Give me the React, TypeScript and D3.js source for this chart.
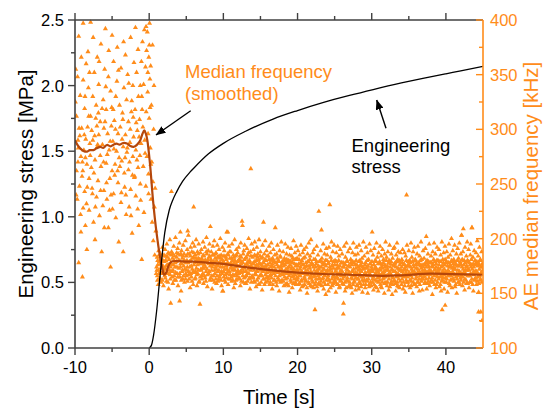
import React from 'react';
import * as d3 from 'd3';

const W = 543, H = 411;
const X0 = 75, X1 = 483, Y0 = 348, Y1 = 20;
const ORANGE = '#FF8C1A';
const SMOOTH = '#B5470B';
const AXIS = '#404040';
const FONT = '"Liberation Sans", Arial, sans-serif';

const xTicks = [-10, 0, 10, 20, 30, 40];
const xMinor = [-5, 5, 15, 25, 35];
const stressTicks = [0, 0.5, 1, 1.5, 2, 2.5];
const stressMinor = [0.25, 0.75, 1.25, 1.75, 2.25];
const freqTicks = [100, 150, 200, 250, 300, 350, 400];
const freqMinor = [125, 175, 225, 275, 325, 375];

// Engineering stress curve [s, MPa]
const stressT = [0, 0.3, 0.6, 1.0, 1.5, 2.1, 2.7, 3.2, 3.7, 4.5, 5.5, 6, 8, 10, 13, 16.7, 20, 23.4, 27, 30.2, 34, 36.9, 40, 42, 45];
const stressS = [0, 0.02, 0.1, 0.28, 0.57, 0.88, 1.05, 1.13, 1.19, 1.27, 1.34, 1.37, 1.48, 1.56, 1.652, 1.745, 1.81, 1.87, 1.925, 1.97, 2.02, 2.055, 2.09, 2.112, 2.147];

// Smoothed median frequency [s, kHz]
const smoothT = [-10, -9.6, -9.3, -8.8, -8.4, -8, -7.5, -7.1, -6.6, -6.2, -5.7, -5.2, -4.8, -4.4, -4, -3.5, -3, -2.6, -2.1, -1.8, -1.5, -1.2, -0.9, -0.66, -0.45, -0.25, 0.1, 0.56, 1.0, 1.46, 1.8, 2.0, 2.3, 2.6, 3.0, 4, 5, 6, 7.75, 10, 13, 16.7, 20, 23.4, 27, 31.5, 34, 37.9, 41, 45];
const smoothF = [290, 285, 282.6, 280, 279.6, 281, 281, 282.6, 284, 283, 285.7, 284.5, 286, 287, 286, 287.5, 287, 285, 284, 285, 287, 290, 296, 299, 296, 290, 269, 232, 205, 183.5, 172, 167, 169, 175, 179, 179.5, 179, 179, 178, 177, 174, 171, 169, 167.7, 167, 166, 166.5, 168, 167.5, 167];

// AE hits before loading [s, kHz]
const preloadHits: [number, number][] = [
  [-9.9,355],[-9.8,312],[-9.8,262],[-9.7,236],[-9.6,290],[-9.5,178],[-9.5,385],[-9.4,248],[-9.3,331],[-9.2,275],[-9.2,206],[-9.1,301],[-9.0,165],[-9.0,270],[-8.9,345],[-8.9,228],[-9.6,270],[-9.95,325],[-9.35,294],[-9.05,257],
  [-9.85,240],[-9.65,348],[-9.45,301],[-9.25,222],[-9.15,366],[-9.55,283],
  [-8.9,397],[-8.8,281],[-8.7,243],[-8.7,319],[-8.6,212],[-8.5,360],[-8.4,268],[-8.4,190],[-8.3,302],[-8.2,338],[-8.1,255],[-8.1,226],[-8.0,287],[-8.6,274],[-8.25,371],[-8.75,295],[-8.45,232],
  [-8.95,262],[-8.65,330],[-8.55,291],[-8.35,247],[-8.15,312],[-8.05,352],
  [-7.9,312],[-7.9,398],[-7.8,265],[-7.7,246],[-7.6,330],[-7.6,290],[-7.5,215],[-7.4,352],[-7.3,272],[-7.3,199],[-7.2,310],[-7.1,238],[-7.0,284],[-7.0,366],[-7.75,299],[-7.45,260],[-7.15,322],
  [-7.95,276],[-7.65,241],[-7.55,384],[-7.35,294],[-7.25,229],[-7.05,303],
  [-6.9,253],[-6.8,341],[-6.8,295],[-6.7,221],[-6.6,307],[-6.5,378],[-6.5,266],[-6.4,188],[-6.3,286],[-6.2,327],[-6.1,244],[-6.1,301],[-6.0,355],[-6.6,276],[-6.25,230],[-6.85,315],
  [-6.95,286],[-6.75,362],[-6.55,244],[-6.35,319],[-6.15,270],[-6.05,210],
  [-5.9,392],[-5.8,269],[-5.8,318],[-5.7,236],[-5.6,296],[-5.5,348],[-5.5,210],[-5.4,281],[-5.3,255],[-5.2,335],[-5.2,174],[-5.1,303],[-5.0,262],[-5.0,386],[-5.65,277],[-5.35,226],[-5.05,320],
  [-5.95,307],[-5.75,251],[-5.45,372],[-5.25,289],[-5.15,240],[-5.85,339],
  [-4.9,289],[-4.8,241],[-4.8,362],[-4.7,308],[-4.6,268],[-4.5,219],[-4.5,330],[-4.4,280],[-4.3,375],[-4.2,251],[-4.2,296],[-4.1,197],[-4.0,322],[-4.65,258],[-4.35,344],[-4.05,274],
  [-4.95,227],[-4.75,282],[-4.55,300],[-4.25,262],[-4.15,354],[-4.85,318],
  [-3.9,302],[-3.8,233],[-3.8,356],[-3.7,271],[-3.6,315],[-3.5,188],[-3.5,284],[-3.4,338],[-3.3,247],[-3.2,295],[-3.2,368],[-3.1,222],[-3.0,279],[-3.65,291],[-3.35,260],[-3.05,327],
  [-3.95,266],[-3.75,242],[-3.55,309],[-3.45,380],[-3.25,274],[-3.15,240],
  [-2.9,350],[-2.8,263],[-2.8,307],[-2.7,229],[-2.6,288],[-2.5,384],[-2.5,245],[-2.4,316],[-2.3,205],[-2.2,275],[-2.2,340],[-2.1,293],[-2.0,256],[-2.65,270],[-2.35,326],[-2.05,361],
  [-2.95,283],[-2.75,342],[-2.55,300],[-2.45,221],[-2.15,311],[-2.25,258],
  [-1.9,318],[-1.8,281],[-1.8,239],[-1.7,352],[-1.6,299],[-1.5,265],[-1.5,373],[-1.4,212],[-1.3,309],[-1.2,340],[-1.2,250],[-1.1,287],[-1.0,181],[-1.0,330],[-1.65,272],[-1.35,293],[-1.05,362],[-1.55,227],
  [-1.95,257],[-1.75,306],[-1.45,330],[-1.25,276],[-1.15,235],[-1.85,393],
  [-0.9,380],[-0.85,302],[-0.8,266],[-0.75,341],[-0.7,224],[-0.65,391],[-0.6,290],[-0.5,357],[-0.45,248],[-0.4,316],[-0.35,372],[-0.3,275],[-0.25,389],[-0.2,334],[-0.15,296],[-0.1,259],[-0.05,366],[0.0,310],[0.05,397],[0.1,346],[0.15,283],[0.2,358],[0.25,236],[0.3,322],
  [-0.95,318],[-0.55,278],[-0.42,394],[-0.18,352],[-0.08,241],[0.02,377],[0.12,320],[0.22,268],
  [0.35,270],[0.4,215],[0.5,252],[0.55,198],[0.6,300],[0.7,229],[0.75,185],[0.8,246],[0.9,207],[0.95,168],[0.45,377],[0.65,340],
];

// AE hits during loading, wide band [s, kHz]
const loadingHits: [number, number][] = [
  [1.03,171],[1.08,183],[1.12,162],[1.17,176],[1.22,158],[1.28,189],[1.33,168],[1.39,179],[1.45,164],[1.5,186],[1.56,173],[1.62,160],[1.68,181],[1.74,169],[1.8,192],[1.86,175],[1.92,157],[1.97,184],
  [2.04,179],[2.1,166],[2.15,190],[2.21,172],[2.27,184],[2.33,161],[2.38,195],[2.44,176],[2.5,168],[2.56,187],[2.62,154],[2.67,181],[2.73,171],[2.79,199],[2.85,163],[2.91,178],[2.96,185],
  [3.02,188],[3.08,170],[3.13,182],[3.19,159],[3.25,176],[3.31,193],[3.37,166],[3.42,184],[3.48,174],[3.54,201],[3.6,162],[3.66,179],[3.71,187],[3.77,168],[3.83,191],[3.89,157],[3.95,180],
  [4.01,173],[4.07,196],[4.13,165],[4.18,185],[4.24,177],[4.3,152],[4.36,189],[4.42,170],[4.47,182],[4.53,163],[4.59,194],[4.65,175],[4.71,186],[4.76,160],[4.82,179],[4.88,198],[4.94,168],
  [5.0,184],[5.06,171],[5.12,190],[5.17,161],[5.23,178],[5.29,203],[5.35,167],[5.41,186],[5.46,174],[5.52,155],[5.58,192],[5.64,180],[5.7,165],[5.75,188],[5.81,172],[5.87,196],[5.93,158],[5.98,183],
  [6.04,176],[6.1,193],[6.16,163],[6.21,185],[6.27,170],[6.33,199],[6.39,180],[6.45,157],[6.5,188],[6.56,168],[6.62,182],[6.68,195],[6.74,161],[6.8,177],[6.85,140],[6.91,187],[6.97,172],
  [7.03,190],[7.09,166],[7.14,181],[7.2,173],[7.26,197],[7.32,159],[7.38,184],[7.43,176],[7.49,192],[7.55,164],[7.61,180],[7.67,170],[7.72,201],[7.78,186],[7.84,156],[7.9,178],[7.96,189],
  [8.02,168],[8.08,183],[8.13,195],[8.19,162],[8.25,211],[8.31,177],[8.37,188],[8.42,171],[8.48,154],[8.54,185],[8.6,193],[8.66,166],[8.72,179],[8.77,198],[8.83,160],[8.89,182],[8.95,174],
  [9.01,187],[9.07,159],[9.13,176],[9.18,194],[9.24,170],[9.3,183],[9.36,163],[9.41,190],[9.47,178],[9.53,167],[9.59,200],[9.65,174],[9.7,185],[9.76,157],[9.82,181],[9.88,192],[9.94,152],
  [10.0,179],[10.06,165],[10.12,189],[10.17,172],[10.23,196],[10.29,160],[10.35,183],[10.41,175],[10.46,206],[10.52,168],[10.58,186],[10.64,158],[10.7,177],[10.75,193],[10.81,170],[10.87,182],[10.93,163],
  [11.0,188],[11.06,174],[11.12,161],[11.17,195],[11.23,180],[11.29,167],[11.35,185],[11.41,155],[11.46,178],[11.52,199],[11.58,171],[11.64,184],[11.7,162],[11.75,190],[11.81,176],[11.87,166],[11.93,187],
  [12.0,170],[12.06,192],[12.12,164],[12.17,181],[12.23,175],[12.29,157],[12.35,196],[12.41,183],[12.46,169],[12.52,216],[12.58,212],[12.64,178],[12.7,160],[12.75,189],[12.81,173],[12.87,194],[12.93,165],
  [13.0,182],[13.06,159],[13.12,177],[13.17,191],[13.23,168],[13.29,185],[13.35,172],[13.41,200],[13.46,163],[13.52,180],[13.58,154],[13.64,188],[13.7,264],[13.75,175],[13.81,195],[13.87,166],[13.93,183],
  [14.0,173],[14.06,190],[14.12,161],[14.17,179],[14.23,197],[14.29,168],[14.35,184],[14.41,156],[14.46,176],[14.52,192],[14.58,170],[14.64,186],[14.7,164],[14.75,181],[14.81,199],[14.87,158],[14.93,177],
  [15.0,188],[15.06,167],[15.12,182],[15.17,174],[15.23,153],[15.29,194],[15.35,178],[15.41,215],[15.46,163],[15.52,186],[15.58,171],[15.64,198],[15.7,160],[15.75,180],[15.81,189],[15.87,169],[15.93,176],
  [16.0,165],[16.06,184],[16.12,172],[16.17,193],[16.23,158],[16.29,178],[16.35,187],[16.41,167],[16.46,196],[16.52,175],[16.58,154],[16.64,182],[16.7,170],[16.75,190],[16.81,162],[16.87,179],[16.93,185],
  [17.0,210],[17.06,171],[17.12,160],[17.17,186],[17.23,176],[17.29,194],[17.35,164],[17.41,180],[17.46,169],[17.52,152],[17.58,189],[17.64,174],[17.7,183],[17.75,161],[17.81,197],[17.87,172],[17.93,179],
  [18.0,167],[18.06,188],[18.12,175],[18.17,157],[18.23,182],[18.29,170],[18.35,195],[18.41,163],[18.46,178],[18.52,186],[18.58,159],[18.64,173],[18.7,192],[18.75,168],[18.81,180],[18.87,151],[18.93,185],
  [19.0,176],[19.06,162],[19.12,191],[19.17,172],[19.23,184],[19.29,155],[19.35,178],[19.41,166],[19.46,198],[19.52,181],[19.58,169],[19.64,187],[19.7,160],[19.75,175],[19.81,193],[19.87,164],[19.93,182],
  [20.0,171],[20.06,189],[20.12,158],[20.17,177],[20.23,166],[20.29,185],[20.35,153],[20.41,174],[20.46,194],[20.52,162],[20.58,180],[20.64,169],[20.7,187],[20.75,157],[20.81,176],[20.87,190],[20.93,165],
  [21.0,183],[21.06,170],[21.12,161],[21.17,192],[21.23,175],[21.29,150],[21.35,186],[21.41,167],[21.46,179],[21.52,196],[21.58,159],[21.64,173],[21.7,184],[21.75,164],[21.81,199],[21.87,176],[21.93,156],
  [22.0,168],[22.06,187],[22.12,174],[22.17,155],[22.23,190],[22.29,166],[22.35,135],[22.41,181],[22.46,160],[22.52,177],[22.58,193],[22.64,171],[22.7,152],[22.75,185],[22.81,163],[22.87,225],[22.93,179],
  [23.0,174],[23.06,158],[23.12,189],[23.17,169],[23.23,208],[23.29,182],[23.35,163],[23.41,176],[23.46,195],[23.52,154],[23.58,172],[23.64,186],[23.7,166],[23.75,180],[23.81,149],[23.87,191],[23.93,170],
  [24.0,185],[24.06,164],[24.12,177],[24.17,152],[24.23,192],[24.29,171],[24.35,231],[24.41,160],[24.46,183],[24.52,168],[24.58,197],[24.64,175],[24.7,157],[24.75,188],[24.81,166],[24.87,179],[24.93,194],
  [25.0,162],[25.06,180],[25.12,170],[25.17,151],[25.23,187],[25.29,165],[25.35,176],[25.41,193],[25.46,158],[25.52,173],[25.58,184],[25.64,155],[25.7,169],[25.75,190],[25.81,161],[25.87,178],[25.93,167],
  [26.0,186],[26.06,159],[26.12,174],[26.17,131],[26.23,165],[26.29,193],[26.35,177],[26.41,152],[26.46,183],[26.52,168],[26.58,196],[26.64,162],[26.7,179],[26.75,171],[26.81,188],[26.87,156],[26.93,175],
  [27.0,169],[27.06,191],[27.12,157],[27.17,181],[27.23,164],[27.29,176],[27.35,150],[27.41,187],[27.46,170],[27.52,196],[27.58,160],[27.64,178],[27.7,166],[27.75,185],[27.81,153],[27.87,173],[27.93,192],
  [28.0,176],[28.06,163],[28.12,186],[28.17,171],[28.23,154],[28.29,194],[28.35,168],[28.41,180],[28.46,159],[28.52,175],[28.58,189],[28.64,165],[28.7,182],[28.75,151],[28.81,172],[28.87,197],[28.93,161],
  [29.0,184],[29.06,168],[29.12,155],[29.17,178],[29.23,192],[29.29,162],[29.35,174],[29.41,187],[29.46,150],[29.52,170],[29.58,181],[29.64,158],[29.7,195],[29.75,166],[29.81,177],[29.87,189],[29.93,157],
  [30.0,172],[30.06,206],[30.12,163],[30.17,185],[30.23,153],[30.29,176],[30.35,191],[30.41,167],[30.46,180],[30.52,156],[30.58,173],[30.64,196],[30.7,161],[30.75,183],[30.81,170],[30.87,152],[30.93,187],
  [31.0,165],[31.06,179],[31.12,193],[31.17,158],[31.23,171],[31.29,184],[31.35,155],[31.41,176],[31.46,190],[31.52,163],[31.58,181],[31.64,168],[31.7,150],[31.75,186],[31.81,174],[31.87,197],[31.93,160],
  [32.0,183],[32.06,157],[32.12,172],[32.17,188],[32.23,166],[32.29,153],[32.35,180],[32.41,194],[32.46,169],[32.52,177],[32.58,159],[32.64,186],[32.7,171],[32.75,149],[32.81,182],[32.87,164],[32.93,191],
  [33.0,175],[33.06,192],[33.12,161],[33.17,178],[33.23,152],[33.29,185],[33.35,168],[33.41,196],[33.46,157],[33.52,173],[33.58,188],[33.64,163],[33.7,180],[33.75,155],[33.81,171],[33.87,187],[33.93,166],
  [34.0,158],[34.06,181],[34.12,170],[34.17,190],[34.23,154],[34.29,176],[34.35,165],[34.41,187],[34.46,172],[34.52,151],[34.58,184],[34.64,162],[34.7,240],[34.75,194],[34.81,175],[34.87,160],[34.93,179],
  [35.0,189],[35.06,167],[35.12,180],[35.17,155],[35.23,174],[35.29,196],[35.35,161],[35.41,183],[35.46,170],[35.52,150],[35.58,188],[35.64,176],[35.7,158],[35.75,192],[35.81,168],[35.87,181],[35.93,163],
  [36.0,173],[36.06,156],[36.12,186],[36.17,169],[36.23,193],[36.29,160],[36.35,178],[36.41,152],[36.46,184],[36.52,166],[36.58,175],[36.64,197],[36.7,163],[36.75,181],[36.81,153],[36.87,171],[36.93,189],
  [37.0,165],[37.06,182],[37.12,159],[37.17,176],[37.23,191],[37.29,170],[37.35,202],[37.41,154],[37.46,180],[37.52,167],[37.58,186],[37.64,161],[37.7,174],[37.75,195],[37.81,157],[37.87,178],[37.93,170],
  [38.0,184],[38.06,162],[38.12,175],[38.17,149],[38.23,188],[38.29,168],[38.35,181],[38.41,196],[38.46,158],[38.52,172],[38.58,186],[38.64,155],[38.7,177],[38.75,166],[38.81,192],[38.87,160],[38.93,180],
  [39.0,171],[39.06,190],[39.12,156],[39.17,179],[39.23,165],[39.29,185],[39.35,152],[39.41,174],[39.46,197],[39.52,162],[39.58,181],[39.64,169],[39.7,187],[39.75,154],[39.81,176],[39.87,193],[39.93,164],
  [40.0,178],[40.06,160],[40.12,188],[40.17,170],[40.23,151],[40.29,183],[40.35,166],[40.41,195],[40.46,174],[40.52,157],[40.58,185],[40.64,168],[40.7,179],[40.75,200],[40.81,155],[40.87,173],[40.93,189],
  [41.0,163],[41.06,181],[41.12,172],[41.17,194],[41.23,156],[41.29,177],[41.35,165],[41.41,186],[41.46,150],[41.52,175],[41.58,191],[41.64,160],[41.7,182],[41.75,168],[41.81,196],[41.87,158],[41.93,179],
  [42.0,186],[42.06,166],[42.12,203],[42.17,174],[42.23,157],[42.29,188],[42.35,209],[42.41,169],[42.46,180],[42.52,153],[42.58,192],[42.64,171],[42.7,162],[42.75,184],[42.81,175],[42.87,197],[42.93,159],
  [43.0,172],[43.06,190],[43.12,155],[43.17,178],[43.23,166],[43.29,185],[43.35,195],[43.41,160],[43.46,176],[43.52,210],[43.58,168],[43.64,183],[43.7,152],[43.75,174],[43.81,189],[43.87,163],[43.93,180],
  [44.0,170],[44.06,187],[44.12,158],[44.17,179],[44.23,198],[44.29,165],[44.35,184],[44.41,151],[44.46,176],[44.52,192],[44.58,162],[44.64,181],[44.7,133],[44.75,169],[44.81,188],[44.87,125],[44.93,174],
];

// AE hits during loading, dense core [s, kHz]
const loadingCoreHits: [number, number][] = [
  [1.0,174],[1.1,166],[1.15,180],[1.25,171],[1.36,163],[1.42,185],[1.53,177],[1.6,168],[1.71,174],[1.77,162],[1.84,180],[1.95,170],
  [2.0,185],[2.07,173],[2.18,164],[2.24,180],[2.3,175],[2.41,169],[2.47,183],[2.53,160],[2.6,176],[2.7,186],[2.82,167],[2.88,174],[2.94,170],
  [3.05,176],[3.11,165],[3.16,186],[3.22,171],[3.34,180],[3.4,162],[3.51,178],[3.57,169],[3.69,183],[3.74,174],[3.86,165],[3.92,186],
  [4.04,180],[4.1,168],[4.21,174],[4.27,186],[4.33,162],[4.39,177],[4.5,171],[4.56,184],[4.62,166],[4.73,180],[4.79,172],[4.91,163],[4.97,178],
  [5.03,166],[5.09,180],[5.14,174],[5.2,186],[5.32,170],[5.38,163],[5.44,179],[5.55,184],[5.61,168],[5.67,175],[5.78,161],[5.84,182],[5.95,170],
  [6.01,187],[6.07,169],[6.13,178],[6.24,164],[6.3,182],[6.36,173],[6.42,167],[6.53,176],[6.59,186],[6.65,171],[6.71,160],[6.77,181],[6.88,165],[6.94,179],
  [7.0,171],[7.06,182],[7.11,163],[7.17,177],[7.23,168],[7.29,185],[7.35,173],[7.46,166],[7.52,180],[7.58,174],[7.64,161],[7.7,188],[7.81,172],[7.87,167],[7.93,181],
  [8.05,177],[8.1,170],[8.16,184],[8.22,175],[8.28,164],[8.34,181],[8.4,179],[8.45,166],[8.51,174],[8.57,162],[8.63,176],[8.69,185],[8.8,171],[8.86,168],[8.92,186],[8.98,163],
  [9.04,172],[9.1,180],[9.15,166],[9.21,183],[9.27,161],[9.33,175],[9.39,171],[9.44,184],[9.5,165],[9.56,178],[9.62,182],[9.68,162],[9.73,170],[9.79,177],[9.85,168],[9.91,174],[9.97,184],
  [10.03,170],[10.09,178],[10.14,162],[10.2,184],[10.26,167],[10.32,175],[10.38,181],[10.44,164],[10.49,172],[10.55,178],[10.61,170],[10.67,185],[10.72,163],[10.78,176],[10.84,188],[10.9,167],[10.96,173],
  [11.03,178],[11.09,165],[11.14,182],[11.2,171],[11.26,162],[11.32,176],[11.38,172],[11.44,183],[11.49,166],[11.55,180],[11.61,159],[11.67,174],[11.72,168],[11.78,185],[11.84,163],[11.9,179],[11.96,171],
  [12.03,180],[12.09,168],[12.14,175],[12.2,163],[12.26,184],[12.32,170],[12.38,177],[12.44,161],[12.49,179],[12.55,172],[12.61,166],[12.67,186],[12.72,170],[12.78,164],[12.84,181],[12.9,175],[12.96,159],
  [13.03,170],[13.09,183],[13.14,166],[13.2,176],[13.26,161],[13.32,179],[13.38,187],[13.44,168],[13.49,174],[13.55,164],[13.61,178],[13.67,171],[13.72,184],[13.78,160],[13.84,173],[13.9,177],[13.96,165],
  [14.03,164],[14.09,177],[14.14,171],[14.2,185],[14.26,160],[14.32,174],[14.38,167],[14.44,180],[14.49,170],[14.55,162],[14.61,183],[14.67,175],[14.72,158],[14.78,172],[14.84,178],[14.9,166],[14.96,184],
  [15.03,171],[15.09,160],[15.14,176],[15.2,166],[15.26,183],[15.32,170],[15.38,163],[15.44,178],[15.49,174],[15.55,158],[15.61,181],[15.67,167],[15.72,175],[15.78,164],[15.84,172],[15.9,184],[15.96,161],
  [16.03,176],[16.09,163],[16.14,181],[16.2,170],[16.26,166],[16.32,160],[16.38,174],[16.44,181],[16.49,164],[16.55,171],[16.61,177],[16.67,158],[16.72,180],[16.78,168],[16.84,174],[16.9,162],[16.96,171],
  [17.03,166],[17.09,178],[17.14,170],[17.2,157],[17.26,182],[17.32,169],[17.38,174],[17.44,162],[17.49,179],[17.55,166],[17.61,171],[17.67,184],[17.72,160],[17.78,175],[17.84,168],[17.9,162],[17.96,178],
  [18.03,177],[18.09,161],[18.14,169],[18.2,180],[18.26,165],[18.32,176],[18.38,158],[18.44,172],[18.49,168],[18.55,181],[18.61,164],[18.67,178],[18.72,170],[18.78,157],[18.84,174],[18.9,166],[18.96,179],
  [19.03,168],[19.09,179],[19.14,160],[19.2,174],[19.26,165],[19.32,182],[19.38,170],[19.44,159],[19.49,172],[19.55,163],[19.61,177],[19.67,167],[19.72,181],[19.78,158],[19.84,171],[19.9,176],[19.96,162],
  [20.03,164],[20.09,175],[20.14,168],[20.2,181],[20.26,159],[20.32,172],[20.38,166],[20.44,178],[20.49,161],[20.55,170],[20.61,156],[20.67,176],[20.72,168],[20.78,182],[20.84,163],[20.9,173],[20.96,158],
  [21.03,174],[21.09,162],[21.14,178],[21.2,167],[21.26,155],[21.32,171],[21.38,179],[21.44,160],[21.49,169],[21.55,175],[21.61,164],[21.67,181],[21.72,157],[21.78,170],[21.84,166],[21.9,178],[21.96,162],
  [22.03,160],[22.09,176],[22.14,165],[22.2,181],[22.26,171],[22.32,158],[22.38,168],[22.44,174],[22.49,163],[22.55,179],[22.61,156],[22.67,170],[22.72,166],[22.78,175],[22.84,159],[22.9,172],[22.96,164],
  [23.03,167],[23.09,180],[23.14,161],[23.2,174],[23.26,157],[23.32,170],[23.38,178],[23.44,164],[23.49,172],[23.55,160],[23.61,166],[23.67,177],[23.72,158],[23.78,169],[23.84,175],[23.9,162],[23.96,180],
  [24.03,171],[24.09,158],[24.14,166],[24.2,178],[24.26,162],[24.32,174],[24.38,168],[24.44,155],[24.49,172],[24.55,180],[24.61,163],[24.67,169],[24.72,176],[24.78,159],[24.84,173],[24.9,165],[24.96,160],
  [25.03,176],[25.09,164],[25.14,160],[25.2,172],[25.26,179],[25.32,158],[25.38,168],[25.44,174],[25.49,163],[25.55,180],[25.61,167],[25.67,156],[25.72,175],[25.78,162],[25.84,171],[25.9,166],[25.96,178],
  [26.03,170],[26.09,163],[26.14,178],[26.2,158],[26.26,174],[26.32,166],[26.38,160],[26.44,176],[26.49,168],[26.55,155],[26.61,172],[26.67,180],[26.72,164],[26.78,161],[26.84,175],[26.9,169],[26.96,157],
  [27.03,160],[27.09,174],[27.14,167],[27.2,178],[27.26,155],[27.32,170],[27.38,163],[27.44,179],[27.49,158],[27.55,172],[27.61,166],[27.67,161],[27.72,176],[27.78,169],[27.84,164],[27.9,180],[27.96,157],
  [28.03,168],[28.09,157],[28.14,174],[28.2,163],[28.26,179],[28.32,160],[28.38,172],[28.44,166],[28.49,176],[28.55,156],[28.61,170],[28.67,178],[28.72,162],[28.78,174],[28.84,165],[28.9,158],[28.96,173],
  [29.03,162],[29.09,176],[29.14,169],[29.2,158],[29.26,173],[29.32,166],[29.38,180],[29.44,161],[29.49,175],[29.55,163],[29.61,171],[29.67,156],[29.72,168],[29.78,177],[29.84,160],[29.9,170],[29.96,174],
  [30.03,179],[30.09,160],[30.14,170],[30.2,165],[30.26,176],[30.32,158],[30.38,172],[30.44,162],[30.49,174],[30.55,168],[30.61,179],[30.67,155],[30.72,171],[30.78,164],[30.84,177],[30.9,160],[30.96,168],
  [31.03,172],[31.09,162],[31.14,177],[31.2,166],[31.26,156],[31.32,174],[31.38,168],[31.44,160],[31.49,173],[31.55,178],[31.61,164],[31.67,170],[31.72,159],[31.78,176],[31.84,165],[31.9,171],[31.96,180],
  [32.03,166],[32.09,175],[32.14,160],[32.2,171],[32.26,178],[32.32,163],[32.38,169],[32.44,156],[32.49,174],[32.55,167],[32.61,179],[32.67,161],[32.72,172],[32.78,165],[32.84,158],[32.9,176],[32.96,170],
  [33.03,162],[33.09,177],[33.14,170],[33.2,159],[33.26,174],[33.32,165],[33.38,179],[33.44,160],[33.49,181],[33.55,168],[33.61,156],[33.67,172],[33.72,166],[33.78,176],[33.84,161],[33.9,178],[33.96,171],
  [34.03,174],[34.09,163],[34.14,178],[34.2,167],[34.26,160],[34.32,171],[34.38,177],[34.44,157],[34.49,166],[34.55,174],[34.61,169],[34.67,180],[34.72,160],[34.78,171],[34.84,165],[34.9,176],[34.96,157],
  [35.03,169],[35.09,175],[35.14,162],[35.2,178],[35.26,166],[35.32,157],[35.38,172],[35.44,164],[35.49,179],[35.55,168],[35.61,160],[35.67,174],[35.72,170],[35.78,180],[35.84,158],[35.9,167],[35.96,176],
  [36.03,165],[36.09,178],[36.14,160],[36.2,172],[36.26,168],[36.32,176],[36.38,163],[36.44,170],[36.49,158],[36.55,180],[36.61,167],[36.67,173],[36.72,161],[36.78,176],[36.84,169],[36.9,163],[36.96,174],
  [37.03,176],[37.09,166],[37.14,171],[37.2,160],[37.26,178],[37.32,163],[37.38,174],[37.44,168],[37.49,159],[37.55,176],[37.61,170],[37.67,179],[37.72,164],[37.78,171],[37.84,167],[37.9,160],[37.96,178],
  [38.03,170],[38.09,178],[38.14,164],[38.2,174],[38.26,160],[38.32,176],[38.38,166],[38.44,171],[38.49,179],[38.55,162],[38.61,168],[38.67,174],[38.72,158],[38.78,180],[38.84,170],[38.9,165],[38.96,173],
  [39.03,163],[39.09,176],[39.14,168],[39.2,172],[39.26,158],[39.32,179],[39.38,166],[39.44,161],[39.49,175],[39.55,170],[39.61,164],[39.67,178],[39.72,167],[39.78,172],[39.84,160],[39.9,181],[39.96,170],
  [40.03,168],[40.09,179],[40.14,163],[40.2,175],[40.26,166],[40.32,171],[40.38,178],[40.44,159],[40.49,169],[40.55,176],[40.61,162],[40.67,174],[40.72,166],[40.78,180],[40.84,163],[40.9,170],[40.96,177],
  [41.03,174],[41.09,161],[41.14,179],[41.2,167],[41.26,172],[41.32,158],[41.38,176],[41.44,168],[41.49,163],[41.55,180],[41.61,171],[41.67,166],[41.72,175],[41.78,160],[41.84,170],[41.9,177],[41.96,164],
  [42.03,162],[42.09,176],[42.14,168],[42.2,181],[42.26,165],[42.32,172],[42.38,160],[42.44,176],[42.49,170],[42.55,163],[42.61,178],[42.67,167],[42.72,174],[42.78,159],[42.84,171],[42.9,180],[42.96,166],
  [43.03,179],[43.09,166],[43.14,171],[43.2,160],[43.26,176],[43.32,168],[43.38,174],[43.44,181],[43.49,163],[43.55,172],[43.61,158],[43.67,177],[43.72,167],[43.78,170],[43.84,162],[43.9,176],[43.96,169],
  [44.03,164],[44.09,177],[44.14,170],[44.2,161],[44.26,175],[44.32,168],[44.38,178],[44.44,159],[44.49,172],[44.55,166],[44.61,180],[44.67,163],[44.72,174],[44.78,168],[44.84,160],[44.9,177],[44.96,171],
];

// Isolated outlying hits during loading [s, kHz]
const outlierHits: [number, number][] = [
  [3.0,243],[4.2,206],[5.2,207],[6.0,229],[10.6,206],[42.1,203],[43.5,210],[2.9,141],[4.1,143],[9.9,152],[26.2,141],[39.9,139],[39.5,135],[44.4,133],
];

const stressCurve: [number, number][] = stressT.map((t, i) => [t, stressS[i]]);
const smoothCurve: [number, number][] = smoothT.map((t, i) => [t, smoothF[i]]);

export default function App() {
  const x = d3.scaleLinear().domain([-10, 45]).range([X0, X1]);
  const yS = d3.scaleLinear().domain([0, 2.5]).range([Y0, Y1]);
  const yF = d3.scaleLinear().domain([100, 400]).range([Y0, Y1]);

  const stressLine = d3.line<[number, number]>().x(d => x(d[0])).y(d => yS(d[1])).curve(d3.curveMonotoneX);
  const smoothLine = d3.line<[number, number]>().x(d => x(d[0])).y(d => yF(d[1])).curve(d3.curveCatmullRom.alpha(0.5));
  const tri = d3.symbol(d3.symbolTriangle, 11)() as string;
  const allHits = [...preloadHits, ...loadingHits, ...loadingCoreHits, ...outlierHits];
  const fmt1 = d3.format('.1f');

  return (
    <>
      <style>{'body{margin:0}'}</style>
      <svg width={W} height={H} style={{ display: 'block', fontFamily: FONT }}>
        <defs>
          <marker id="ah" viewBox="0 0 10 8" refX="9.5" refY="4" markerWidth="10" markerHeight="8" markerUnits="userSpaceOnUse" orient="auto">
            <path d="M0,0 L10,4 L0,8 Z" fill="#000" />
          </marker>
          <clipPath id="plot">
            <rect x={X0} y={Y1 - 4} width={X1 - X0} height={Y0 - Y1 + 4} />
          </clipPath>
        </defs>

        <g clipPath="url(#plot)">
          {allHits.map((d, i) => (
            <path key={i} d={tri} transform={`translate(${x(d[0])},${yF(d[1])})`} fill={ORANGE} />
          ))}
          <path d={smoothLine(smoothCurve) as string} fill="none" stroke={SMOOTH} strokeWidth={2.2} />
          <path d={stressLine(stressCurve) as string} fill="none" stroke="#000" strokeWidth={1.3} />
        </g>

        {/* axes frame */}
        <line x1={X0} x2={X1} y1={Y0} y2={Y0} stroke={AXIS} strokeWidth={1.6} />
        <line x1={X0} x2={X1} y1={Y1} y2={Y1} stroke={AXIS} strokeWidth={1.6} />
        <line x1={X0} x2={X0} y1={Y1} y2={Y0} stroke={AXIS} strokeWidth={1.6} />
        <line x1={X1} x2={X1} y1={Y1} y2={Y0} stroke={ORANGE} strokeWidth={1.6} />

        {/* x ticks bottom & top */}
        {xTicks.map(t => (
          <g key={'xt' + t}>
            <line x1={x(t)} x2={x(t)} y1={Y0} y2={Y0 + 7} stroke={AXIS} strokeWidth={1.4} />
            <line x1={x(t)} x2={x(t)} y1={Y1} y2={Y1 - 7} stroke={AXIS} strokeWidth={1.4} />
            <text x={x(t)} y={373} textAnchor="middle" fontSize={16.5} fill="#000">{String(t)}</text>
          </g>
        ))}
        {xMinor.map(t => (
          <g key={'xm' + t}>
            <line x1={x(t)} x2={x(t)} y1={Y0} y2={Y0 + 4} stroke={AXIS} strokeWidth={1.4} />
            <line x1={x(t)} x2={x(t)} y1={Y1} y2={Y1 - 4} stroke={AXIS} strokeWidth={1.4} />
          </g>
        ))}

        {/* left axis */}
        {stressTicks.map(s => (
          <g key={'ys' + s}>
            <line x1={X0 - 7} x2={X0} y1={yS(s)} y2={yS(s)} stroke={AXIS} strokeWidth={1.4} />
            <text x={64} y={yS(s)} dy="0.36em" textAnchor="end" fontSize={16.5} fill="#000">{fmt1(s)}</text>
          </g>
        ))}
        {stressMinor.map(s => (
          <line key={'ysm' + s} x1={X0 - 4} x2={X0} y1={yS(s)} y2={yS(s)} stroke={AXIS} strokeWidth={1.4} />
        ))}

        {/* right axis */}
        {freqTicks.map(f => (
          <g key={'yf' + f}>
            <line x1={X1 - 7} x2={X1} y1={yF(f)} y2={yF(f)} stroke={ORANGE} strokeWidth={1.4} />
            <text x={490} y={yF(f)} dy="0.36em" textAnchor="start" fontSize={16.5} fill={ORANGE}>{String(f)}</text>
          </g>
        ))}
        {freqMinor.map(f => (
          <line key={'yfm' + f} x1={X1 - 4} x2={X1} y1={yF(f)} y2={yF(f)} stroke={ORANGE} strokeWidth={1.4} />
        ))}

        {/* axis titles */}
        <text x={(X0 + X1) / 2} y={404} textAnchor="middle" fontSize={20.5} fill="#000">Time [s]</text>
        <text transform={`translate(33,${(Y0 + Y1) / 2}) rotate(-90)`} textAnchor="middle" fontSize={20.5} fill="#000">Engineering stress [MPa]</text>
        <text transform={`translate(538,${(Y0 + Y1) / 2 + 2}) rotate(-90)`} textAnchor="middle" fontSize={20.5} fill={ORANGE}>AE median frequency [kHz]</text>

        {/* annotations */}
        <text x={185} y={78} fontSize={18.5} fill={ORANGE}>Median frequency</text>
        <text x={185} y={99.5} fontSize={18.5} fill={ORANGE}>(smoothed)</text>
        <line x1={190.7} y1={110.7} x2={156} y2={135} stroke="#000" strokeWidth={1.4} markerEnd="url(#ah)" />

        <text x={351.5} y={151.5} fontSize={18.5} fill="#000">Engineering</text>
        <text x={351.5} y={173.3} fontSize={18.5} fill="#000">stress</text>
        <line x1={386} y1={128.3} x2={376.7} y2={100} stroke="#000" strokeWidth={1.4} markerEnd="url(#ah)" />
      </svg>
    </>
  );
}
